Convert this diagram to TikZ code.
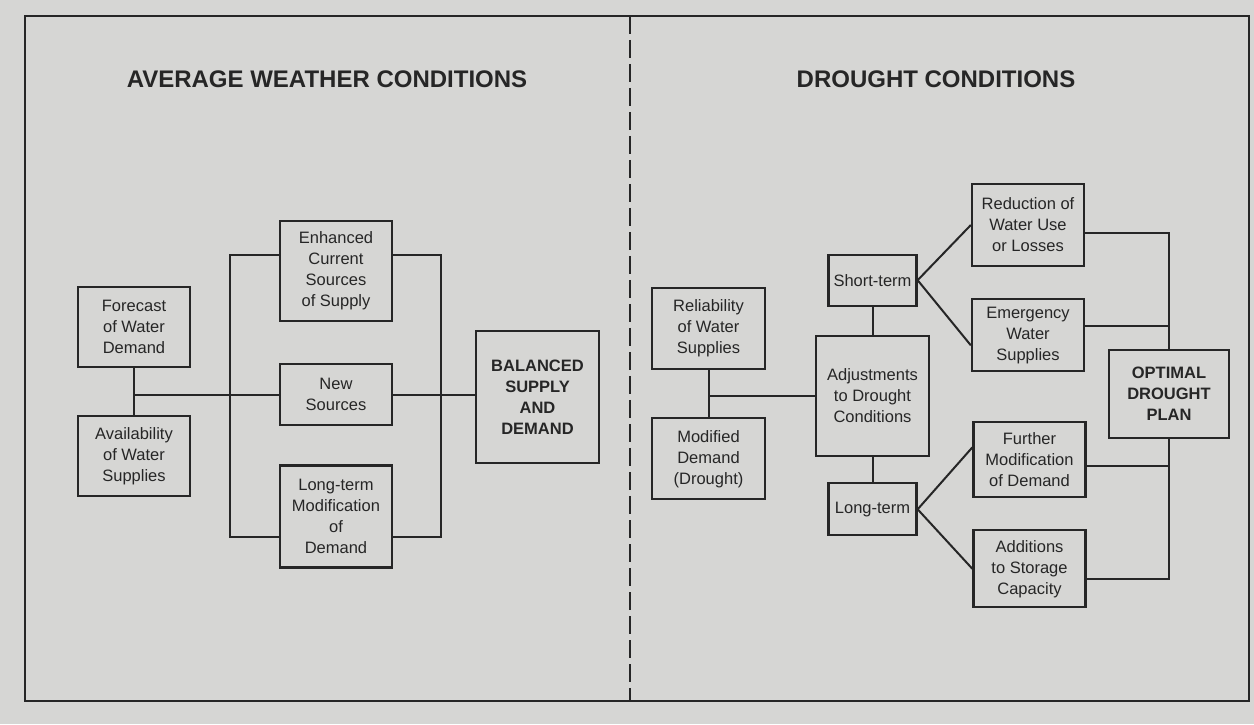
\documentclass[tikz,border=0pt]{standalone}
\usepackage{fontspec}
\setmainfont{Liberation Sans}
\usetikzlibrary{positioning}
\definecolor{paper}{RGB}{214,214,212}
\definecolor{ink}{RGB}{38,38,38}

\begin{document}
\begin{tikzpicture}[
  x=1pt, y=1pt,
  node distance=30pt and 30pt,
  box/.style={draw=ink,line width=2.3pt,align=center,minimum width=112pt,inner sep=2pt,text=ink,font=\fontsize{16.5}{21}\selectfont},
  boldbox/.style={box,font=\fontsize{16.5}{21}\selectfont\bfseries},
  title/.style={text=ink,font=\fontsize{24}{28}\selectfont\bfseries},
  link/.style={draw=ink,line width=2pt}
]
\fill[paper] (0,0) rectangle (1254,724);
\useasboundingbox (0,0) rectangle (1254,724);
% frame and divider
\draw[ink,line width=2pt] (25,23) rectangle (1249,708);
\draw[ink,line width=2pt,dash pattern=on 18pt off 6pt] (630,708) -- (630,23);

% average weather conditions
\node[title] (avgtitle) at (327,645) {AVERAGE WEATHER CONDITIONS};
\node[box,minimum height=80pt] (fcst) at (134,397) {Forecast\\of Water\\Demand};
\node[box,minimum height=80pt,below=47pt of fcst] (avail) {Availability\\of Water\\Supplies};
\node[box,minimum height=100pt] (enh) at (336,453) {Enhanced\\Current\\Sources\\of Supply};
\node[box,minimum height=61pt,below=41pt of enh] (newsrc) {New\\Sources};
\node[box,minimum height=102pt,below=38pt of newsrc] (ltmod) {Long-term\\Modification\\of\\Demand};
\node[boldbox,minimum width=123pt,minimum height=132pt] (bal) at (537.5,327) {BALANCED\\SUPPLY\\AND\\DEMAND};
\draw[link] (fcst) -- (avail);
\draw[link] (fcst |- newsrc.west) -- (newsrc.west);
\draw[link] (newsrc.east) -- (newsrc.east -| bal.west);
\draw[link] (enh.164) -- ++(-49,0) |- (ltmod.200);
\draw[link] (enh.16) -- ++(48,0) |- (ltmod.340);

% drought conditions
\node[title] (drtitle) at (936,645) {DROUGHT CONDITIONS};
\node[box,minimum width=113pt,minimum height=120pt] (adj) at (872.5,328) {Adjustments\\to Drought\\Conditions};
\node[box,minimum width=88pt,minimum height=51pt,above=28pt of adj] (short) {Short-term};
\node[box,minimum width=88pt,minimum height=52pt,below=25pt of adj] (long) {Long-term};
\node[box,minimum width=113pt,minimum height=81pt] (rel) at (708.5,395.5) {Reliability\\of Water\\Supplies};
\node[box,minimum width=113pt,minimum height=81pt,below=47pt of rel] (moddem) {Modified\\Demand\\(Drought)};
\node[box,minimum height=82pt] (red) at (1028,499) {Reduction of\\Water Use\\or Losses};
\node[box,minimum height=72pt,below=31pt of red] (emerg) {Emergency\\Water\\Supplies};
\node[box,minimum height=75pt] (further) at (1029.5,264.5) {Further\\Modification\\of Demand};
\node[box,minimum height=77pt,below=31pt of further] (addit) {Additions\\to Storage\\Capacity};
\node[boldbox,minimum width=120pt,minimum height=88pt] (optimal) at (1169,330) {OPTIMAL\\DROUGHT\\PLAN};
\draw[link] (rel) -- (moddem);
\draw[link] (rel |- adj.west) -- (adj.west);
\draw[link] (short) -- (adj);
\draw[link] (adj) -- (long);
\draw[link] (short.east) -- (red.west);
\draw[link] (short.east) -- (emerg.190);
\draw[link] (long.east) -- (further.168);
\draw[link] (long.east) -- (addit.west);
\draw[link] (red.352) -| (optimal.north);
\draw[link] (emerg.9) -| (optimal.north);
\draw[link] (further.354) -| (optimal.south);
\draw[link] (addit.350) -| (optimal.south);
\end{tikzpicture}
\end{document}
